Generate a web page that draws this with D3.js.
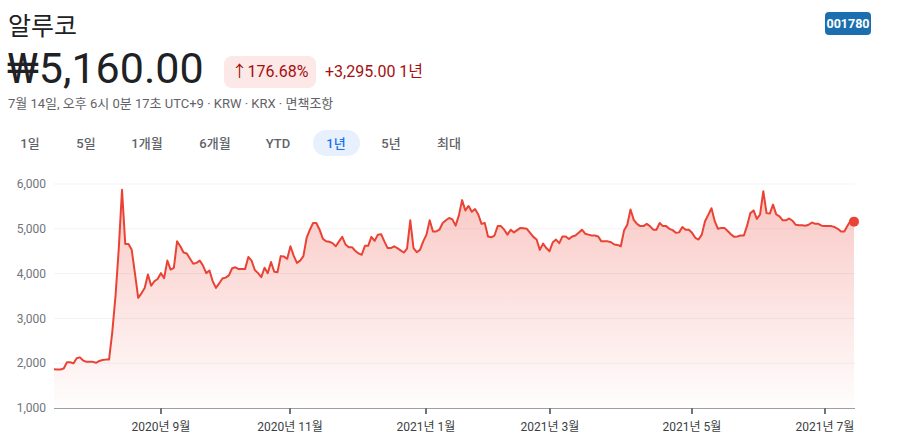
<!DOCTYPE html>
<html>
<head>
<meta charset="utf-8">
<script src="https://cdn.jsdelivr.net/npm/d3@7"></script>
<style>
  body { margin: 0; background: #fff; }
  svg { display: block; font-family: Roboto, "Noto Sans CJK KR", sans-serif; }
</style>
</head>
<body>
<script>
// daily closes (KRX trading days), one array per month
const jul2020 = [1865, 1860, 1860, 1880, 2020, 2020, 1995, 2110, 2130, 2060, 2030, 2030, 2030];
const aug2020 = [2010, 2050, 2070, 2080, 2080, 2700, 3510, 4560, 5870, 4660, 4660, 4530, 4000, 3460, 3560, 3680, 3980, 3730, 3830, 3880];
const sep2020 = [4010, 3900, 4290, 4090, 4130, 4720, 4610, 4470, 4450, 4330, 4220, 4240, 4290, 4180, 4010, 4070, 3830, 3680, 3780, 3890, 3910];
const oct2020 = [3960, 4120, 4140, 4100, 4100, 4100, 4370, 4290, 4080, 4010, 3920, 4130, 4010, 4260, 4040, 4030, 4390, 4380, 4330];
const nov2020 = [4610, 4400, 4240, 4290, 4390, 4800, 4980, 5130, 5130, 4980, 4780, 4720, 4710, 4680, 4610, 4720, 4820, 4650, 4590, 4590, 4510];
const dec2020 = [4450, 4420, 4620, 4620, 4820, 4730, 4870, 4880, 4720, 4570, 4570, 4610, 4570, 4520, 4470, 4560, 5190, 4570, 4480, 4530, 4720];
const jan2021 = [4870, 5190, 4940, 4940, 4980, 5130, 5190, 5240, 5210, 5070, 5300, 5640, 5410, 5510, 5380, 5440, 5320, 5110, 5130, 4830];
const feb2021 = [4810, 4850, 5060, 5060, 4980, 4870, 4980, 4920, 4970, 5020, 5010, 5000, 4910, 4820, 4760, 4530, 4670, 4570];
const mar2021 = [4500, 4700, 4760, 4680, 4830, 4830, 4770, 4830, 4850, 4910, 4980, 4890, 4870, 4850, 4850, 4830, 4720, 4720, 4720, 4700, 4650, 4640];
const apr2021 = [4610, 4960, 5090, 5430, 5200, 5110, 5060, 5060, 5110, 5060, 4980, 4980, 5130, 5060, 5060, 5000, 4970, 4910, 4920, 5040, 4980, 4980];
const may2021 = [4910, 4800, 4760, 4870, 5170, 5310, 5460, 5170, 5000, 5020, 5020, 4950, 4880, 4820, 4830, 4850, 4850, 5070, 5350];
const jun2021 = [5410, 5220, 5320, 5840, 5350, 5340, 5540, 5320, 5280, 5190, 5190, 5230, 5180, 5090, 5080, 5080, 5070, 5090, 5140, 5110, 5110, 5070];
const jul2021 = [5060, 5060, 5060, 5040, 5000, 4940, 4940, 5070, 5190, 5160];

const months = [jul2020, aug2020, sep2020, oct2020, nov2020, dec2020, jan2021, feb2021, mar2021, apr2021, may2021, jun2021, jul2021];
const tickMonths = [2, 4, 6, 8, 10, 12]; // which month arrays get a tick at their first day
const tickLabels = ["2020년 9월", "2020년 11월", "2021년 1월", "2021년 3월", "2021년 5월", "2021년 7월"];
const yTicks = [1000, 2000, 3000, 4000, 5000, 6000];
const ranges = ["1일", "5일", "1개월", "6개월", "YTD", "1년", "5년", "최대"];
const rangeX = [30, 86, 147, 215, 278, 336, 391, 449];

const width = 897, height = 444;
const prices = months.flat();
const monthStart = [];
let acc = 0;
months.forEach(m => { monthStart.push(acc); acc += m.length; });

const svg = d3.select("body").append("svg").attr("width", width).attr("height", height);

// header
svg.append("text").attr("x", 8).attr("y", 35).attr("font-size", 25).attr("fill", "#202124")
  .attr("font-family", "'Noto Sans CJK KR', sans-serif").text("알루코");

svg.append("rect").attr("x", 825).attr("y", 12).attr("width", 46).attr("height", 23).attr("rx", 4).attr("fill", "#1b6fb0");
svg.append("text").attr("x", 848).attr("y", 28).attr("text-anchor", "middle").attr("font-size", 12.5)
  .attr("font-weight", 700).attr("fill", "#fff").text("001780");

svg.append("text").attr("x", 7).attr("y", 83).attr("font-size", 43).attr("fill", "#202124").text("₩5,160.00");

svg.append("rect").attr("x", 224).attr("y", 56).attr("width", 92).attr("height", 32).attr("rx", 8).attr("fill", "#fce8e6");
svg.append("text").attr("x", 270).attr("y", 77).attr("text-anchor", "middle").attr("font-size", 16).attr("fill", "#a50e0e").text("↑176.68%");
svg.append("text").attr("x", 325).attr("y", 77).attr("font-size", 16).attr("fill", "#a50e0e").text("+3,295.00 1년");

svg.append("text").attr("x", 8).attr("y", 108).attr("font-size", 13).attr("fill", "#5f6368")
  .text("7월 14일, 오후 6시 0분 17초 UTC+9 · KRW · KRX · 면책조항");

// range selector
svg.append("rect").attr("x", 313).attr("y", 130).attr("width", 47).attr("height", 26).attr("rx", 13).attr("fill", "#e8f0fe");
svg.selectAll(".range").data(ranges).join("text")
  .attr("x", (d, i) => rangeX[i]).attr("y", 148).attr("text-anchor", "middle")
  .attr("font-size", 13).attr("font-weight", 500)
  .attr("fill", d => d === "1년" ? "#1a73e8" : "#5f6368").text(d => d);

// chart
const x = d3.scaleLinear().domain([0, prices.length - 1]).range([54, 854]);
const y = d3.scaleLinear().domain([1000, 6000]).range([408, 184]);

const defs = svg.append("defs");
const grad = defs.append("linearGradient").attr("id", "fillGrad")
  .attr("gradientUnits", "userSpaceOnUse").attr("x1", 0).attr("x2", 0).attr("y1", y(6000)).attr("y2", y(1000));
grad.append("stop").attr("offset", "0%").attr("stop-color", "#ea4335").attr("stop-opacity", 0.3);
grad.append("stop").attr("offset", "100%").attr("stop-color", "#ea4335").attr("stop-opacity", 0.01);

svg.append("g").selectAll("line").data(yTicks.slice(1)).join("line")
  .attr("x1", 54).attr("x2", 855).attr("y1", d => y(d)).attr("y2", d => y(d))
  .attr("stroke", "#f1f3f4").attr("stroke-width", 1);

svg.append("g").selectAll("text").data(yTicks).join("text")
  .attr("x", 46).attr("y", d => y(d)).attr("dy", "0.35em").attr("text-anchor", "end")
  .attr("font-size", 12).attr("fill", "#70757a").text(d => d3.format(",")(d));

const area = d3.area().x((d, i) => x(i)).y0(y(1000)).y1(d => y(d));
const line = d3.line().x((d, i) => x(i)).y(d => y(d));

svg.append("path").datum(prices).attr("d", area).attr("fill", "url(#fillGrad)");
svg.append("path").datum(prices).attr("d", line).attr("fill", "none")
  .attr("stroke", "#ea4335").attr("stroke-width", 2).attr("stroke-linejoin", "round");

// x axis
svg.append("line").attr("x1", 54).attr("x2", 855).attr("y1", 408.5).attr("y2", 408.5).attr("stroke", "#9aa0a6");
const tickIdx = tickMonths.map(m => monthStart[m]);
const xt = svg.append("g").selectAll("g").data(tickIdx).join("g")
  .attr("transform", d => `translate(${Math.round(x(d))},0)`);
xt.append("line").attr("y1", 408).attr("y2", 414).attr("stroke", "#70757a").attr("stroke-width", 2);
xt.append("text").attr("y", 431).attr("text-anchor", "middle").attr("font-size", 12)
  .attr("fill", "#3c4043").text((d, i) => tickLabels[i]);

// last point
const last = prices.length - 1;
svg.append("circle").attr("cx", x(last)).attr("cy", y(prices[last])).attr("r", 5).attr("fill", "#ea4335");
</script>
</body>
</html>
